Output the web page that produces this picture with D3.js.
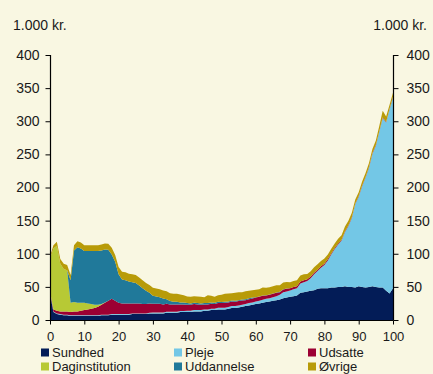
<!DOCTYPE html>
<html>
<head>
<meta charset="utf-8">
<script src="https://cdn.jsdelivr.net/npm/d3@7"></script>
<style>
  html, body { margin: 0; padding: 0; background: #f9f7e2; }
  svg { display: block; font-family: "Liberation Sans", Arial, sans-serif; }
</style>
</head>
<body>
<svg id="chart" width="433" height="374"></svg>
<script>
// Offentlige udgifter pr. person fordelt på alder (1.000 kr.)
const ages = d3.range(0, 101);

const sundhed = [
  40, 12, 9, 8, 7, 7, 6, 6, 6, 6,
  6, 6, 6, 6, 6, 7, 7, 7, 8, 8,
  8, 8, 8, 8, 9, 9, 9, 9, 9, 10,
  10, 10, 10, 10, 11, 11, 11, 11, 12, 12,
  12, 12, 13, 13, 13, 14, 14, 15, 15, 16,
  16, 16, 17, 18, 18, 19, 20, 21, 22, 23,
  24, 25, 26, 27, 28, 29, 30, 31, 33, 34,
  35, 36, 37, 41, 42, 43, 44, 45, 47, 48,
  48, 48, 49, 49, 50, 50, 51, 50, 50, 49,
  51, 50, 49, 50, 51, 50, 49, 49, 44, 40,
  48
];

const pleje = [
  1, 1, 1, 1, 1, 1, 1, 1, 1, 1,
  1, 1, 1, 1, 1, 1, 1, 1, 1, 1,
  1, 1, 1, 1, 1, 1, 1, 1, 1, 1,
  1.5, 1.5, 1.5, 1.5, 1.5, 1.5, 1.5, 1.5, 1.5, 1.5,
  2, 2, 2, 2, 2, 2, 2, 2, 2, 2.5,
  2.5, 2.5, 2.5, 3, 3, 3, 3, 3, 3.5, 3.5,
  4, 4, 4.5, 5, 5, 5.5, 6, 7, 9, 9,
  9.5, 10.5, 11, 14, 15, 16, 19, 24, 27, 31,
  35, 42, 50, 58, 64, 70, 82, 92, 104, 126,
  135, 152, 166, 180, 200, 213, 235, 256, 254, 278,
  288
];

const udsatte = [
  2, 3, 4, 4, 5, 5, 5, 6, 6, 7,
  8, 9, 10, 11, 13, 15, 18, 21, 23, 20,
  17, 16, 16, 16, 15, 15, 15, 14, 14, 14,
  13, 13, 13, 12, 12, 11, 11, 11, 10, 10,
  9, 9, 9, 8.5, 8, 7.5, 7.5, 7.5, 7, 7,
  7, 7.5, 7, 7, 6.5, 6.5, 6.5, 6, 6, 6,
  6, 6, 6, 5, 5, 5, 5, 4, 4, 4,
  3.5, 3.5, 3, 3, 3, 2.5, 2.5, 2.5, 2, 2,
  2, 2, 1.5, 1.5, 1.5, 1, 1, 1, 1, 1,
  1, 1, 1, 1, 1, 1, 1, 1, 1, 1,
  1
];

const daginstitution = [
  50, 92, 98, 72, 64, 62, 14, 14, 13, 12,
  11, 9, 7, 5, 3, 1, 0.5, 0, 0, 0,
  0, 0, 0, 0, 0, 0, 0, 0, 0, 0,
  0, 0, 0, 0, 0, 0, 0, 0, 0, 0,
  0, 0, 0, 0, 0, 0, 0, 0, 0, 0,
  0, 0, 0, 0, 0, 0, 0, 0, 0, 0,
  0, 0, 0, 0, 0, 0, 0, 0, 0, 0,
  0, 0, 0, 0, 0, 0, 0, 0, 0, 0,
  0, 0, 0, 0, 0, 0, 0, 0, 0, 0,
  0, 0, 0, 0, 0, 0, 0, 0, 0, 0,
  0
];

const uddannelse = [
  0, 0, 0, 0, 0, 0, 34, 78, 84, 82,
  78, 79, 80, 81, 81, 81, 80, 77, 67, 59,
  43, 36, 35, 33, 32, 31, 27, 24, 20, 16,
  12, 11, 10, 9, 7, 5, 4, 4, 3, 3,
  2.5, 2, 2, 2, 2, 2, 2, 2, 2, 2,
  1.5, 1.5, 1.5, 1.5, 1.5, 1.5, 1.5, 1.5, 1.5, 1.5,
  0.5, 0.5, 0.5, 0.5, 0.5, 0.5, 0.5, 0.5, 0.5, 0.5,
  0, 0, 0, 0, 0, 0, 0, 0, 0, 0,
  0, 0, 0, 0, 0, 0, 0, 0, 0, 0,
  0, 0, 0, 0, 0, 0, 0, 0, 0, 0,
  0
];

const oevrige = [
  3, 5, 6, 7, 8, 8, 8, 8, 9, 9,
  9, 9, 9, 9, 9, 9, 9, 9, 10, 10,
  11, 12, 12, 12, 12, 12, 12, 12, 12, 12,
  12, 12, 12, 12, 12, 12, 12, 12, 12, 11,
  10, 10, 10, 10, 10, 9, 12, 10, 9, 10,
  11, 12, 12, 11, 12, 12, 11, 12, 11, 11,
  11, 11, 12, 11, 11, 11, 11, 10, 10, 10,
  9, 9, 9, 9, 9, 8, 8, 8, 8, 8,
  8, 7, 7, 7, 7, 7, 7, 7, 7, 6,
  6, 6, 6, 6, 6, 7, 8, 10, 8, 6,
  6
];

const seriesNames = ["Sundhed", "Pleje", "Udsatte", "Daginstitution", "Uddannelse", "Øvrige"];
const seriesValues = [sundhed, pleje, udsatte, daginstitution, uddannelse, oevrige];
const seriesColors = ["#031c57", "#73c7e6", "#9c0033", "#b7c935", "#20799a", "#b89b08"];

const yTicks = [0, 50, 100, 150, 200, 250, 300, 350, 400];
const xTicks = [0, 10, 20, 30, 40, 50, 60, 70, 80, 90, 100];
const unitLabel = "1.000 kr.";

// rows for the stack: one object per age
const rows = ages.map((a, i) => {
  const r = { age: a };
  seriesNames.forEach((n, k) => { r[n] = seriesValues[k][i]; });
  return r;
});

const svg = d3.select("#chart");
const plotLeft = 50, plotRight = 393, plotTop = 55, plotBottom = 320;

const x = d3.scaleLinear().domain([0, 100]).range([plotLeft, plotRight]);
const y = d3.scaleLinear().domain([0, 400]).range([plotBottom, plotTop]);

const stacked = d3.stack().keys(seriesNames)(rows);

const area = d3.area()
  .x(d => x(d.data.age))
  .y0(d => y(d[0]))
  .y1(d => y(d[1]));

svg.append("g")
  .selectAll("path")
  .data(stacked)
  .join("path")
  .attr("fill", (d, i) => seriesColors[i])
  .attr("d", area);

const textColor = "#1a1a1a";
const fontSize = "14px";
const smallFont = "13px";

// left axis
const yLeft = svg.append("g")
  .attr("transform", `translate(${plotLeft + 0.5},0)`)
  .call(d3.axisLeft(y).tickValues(yTicks).tickSize(5).tickPadding(6));
// right axis
const yRight = svg.append("g")
  .attr("transform", `translate(${plotRight + 0.5},0)`)
  .call(d3.axisRight(y).tickValues(yTicks).tickSize(5).tickPadding(8));
// bottom axis
const xAxis = svg.append("g")
  .attr("transform", `translate(0,${plotBottom + 0.5})`)
  .call(d3.axisBottom(x).tickValues(xTicks).tickSize(4).tickPadding(7));

[yLeft, yRight, xAxis].forEach(g => {
  g.select(".domain").attr("stroke", "#000").attr("stroke-width", 1.2);
  g.selectAll(".tick line").attr("stroke", "#000");
  g.selectAll(".tick text")
    .attr("fill", textColor)
    .style("font-size", fontSize)
    .style("font-family", '"Liberation Sans", Arial, sans-serif');
});
xAxis.selectAll(".tick text").style("font-size", smallFont);

// the axes meet without outer tick stubs
yLeft.select(".domain").attr("d", `M0,${plotTop}V${plotBottom}`);
yRight.select(".domain").attr("d", `M0,${plotTop}V${plotBottom}`);
xAxis.select(".domain").attr("d", `M${plotLeft},0H${plotRight + 0.5}`);

// unit labels
svg.append("text")
  .attr("x", 13).attr("y", 30)
  .attr("fill", textColor)
  .style("font-size", fontSize)
  .text(unitLabel);
svg.append("text")
  .attr("x", 427).attr("y", 30)
  .attr("text-anchor", "end")
  .attr("fill", textColor)
  .style("font-size", fontSize)
  .text(unitLabel);

// legend: three columns, two rows
const legendCols = [41, 174, 308];
const legendRows = [357, 371];
const legend = svg.append("g");
seriesNames.forEach((n, i) => {
  const cx = legendCols[i % 3];
  const cy = legendRows[Math.floor(i / 3)];
  legend.append("rect")
    .attr("x", cx).attr("y", cy - 8.5)
    .attr("width", 8).attr("height", 8)
    .attr("fill", seriesColors[i]);
  legend.append("text")
    .attr("x", cx + 11).attr("y", cy)
    .attr("fill", textColor)
    .style("font-size", smallFont)
    .text(n);
});
</script>
</body>
</html>
